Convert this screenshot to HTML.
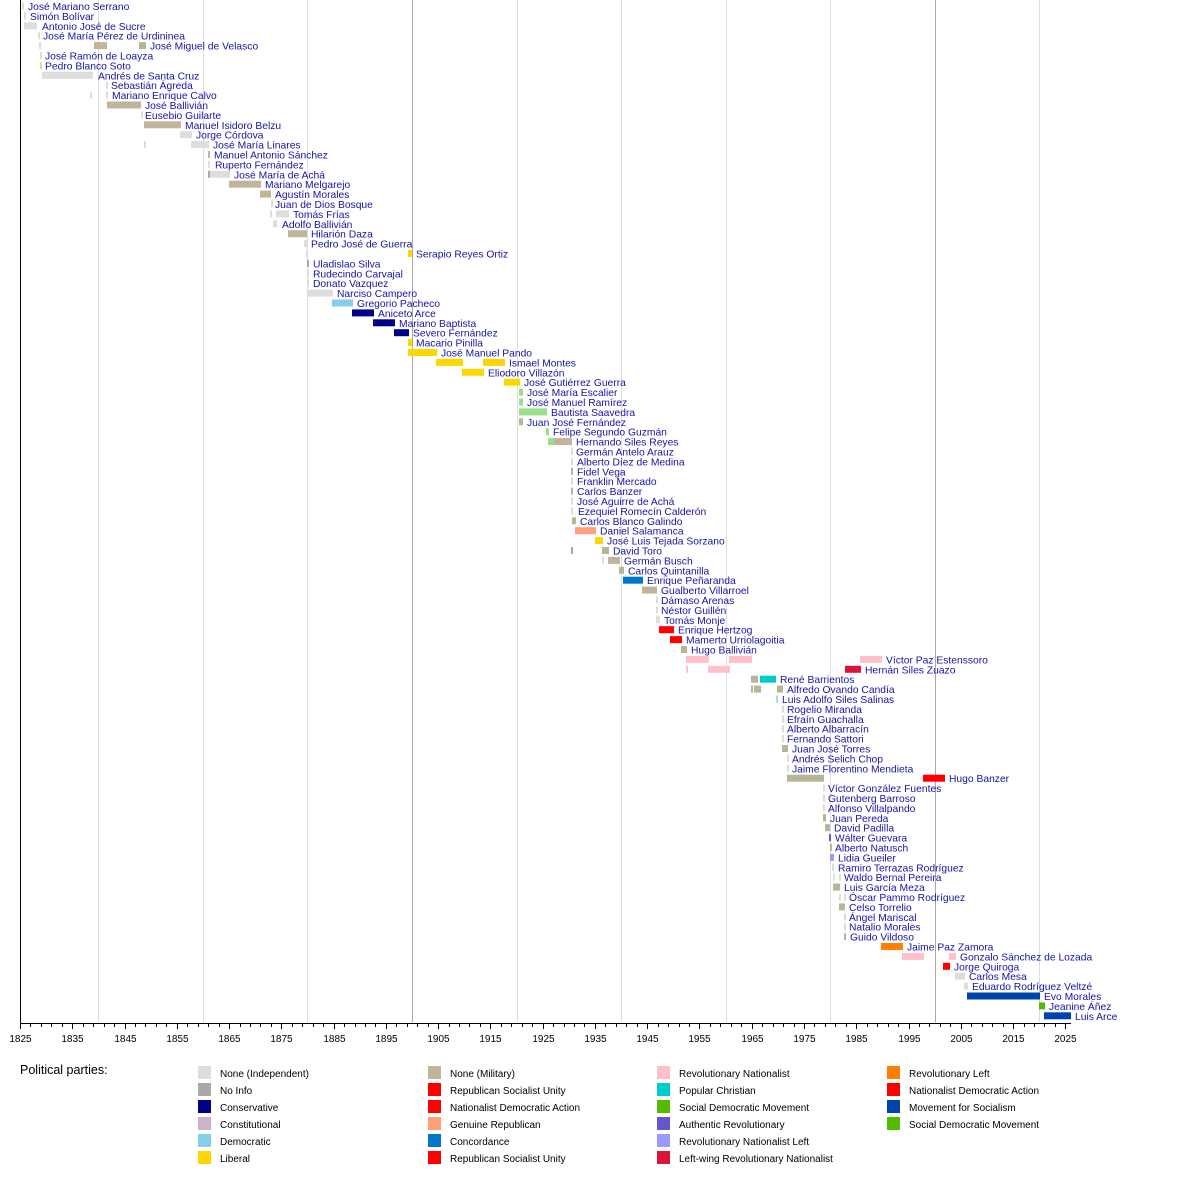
<!DOCTYPE html>
<html><head><meta charset="utf-8">
<style>
body{margin:0;background:#fff;width:1200px;height:1173px;overflow:hidden;}
svg text{font-family:"Liberation Sans",sans-serif;}
</style></head>
<body>
<svg id="s" width="1200" height="1173" xmlns="http://www.w3.org/2000/svg"></svg>
<script>
var G='#dddddd',N='#a9a9a9',C='#000088',D='#87ceeb',L='#ffd700',M='#c2b49a',R='#ff0000',GR='#ffa07a',CO='#0077cc',RN='#ffc0cb',PC='#00cccc',SD='#55bb00',AR='#6655cc',RL='#9999ff',LW='#dc143c',OR='#ff8000',MAS='#0044aa',LG='#98df8a',OL='#b8b496';
function t(x,c){return [x,x+2,c||G];}
var rows=[
["José Mariano Serrano",28,[t(22)]],
["Simón Bolívar",30,[t(24)]],
["Antonio José de Sucre",42,[[24,37,G]]],
["José María Pérez de Urdininea",43,[t(38)]],
["José Miguel de Velasco",150,[t(39),[94,107,M],[139,146,OL]]],
["José Ramón de Loayza",45,[t(40)]],
["Pedro Blanco Soto",45,[t(40,'#e8d890')]],
["Andrés de Santa Cruz",98,[[42,93,G]]],
["Sebastián Ágreda",111,[t(106)]],
["Mariano Enrique Calvo",112,[t(90),t(106)]],
["José Ballivián",145,[[107,141,M]]],
["Eusebio Guilarte",145,[t(141)]],
["Manuel Isidoro Belzu",185,[[144,181,M]]],
["Jorge Córdova",196,[[180,192,G]]],
["José María Linares",213,[t(144),[191,209,G]]],
["Manuel Antonio Sánchez",214,[t(208,M)]],
["Ruperto Fernández",215,[t(208)]],
["José María de Achá",234,[t(208,N),[210,230,G]]],
["Mariano Melgarejo",265,[[229,261,M]]],
["Agustín Morales",275,[[260,271,M]]],
["Juan de Dios Bosque",275,[t(271)]],
["Tomás Frías",293,[t(270),[276,289,G]]],
["Adolfo Ballivián",282,[[273,277,G]]],
["Hilarión Daza",311,[[288,307,M]]],
["Pedro José de Guerra",311,[[304,307,G]]],
["Serapio Reyes Ortiz",416,[t(306),[408,412,L]]],
["Uladislao Silva",313,[t(307,N)]],
["Rudecindo Carvajal",313,[t(307)]],
["Donato Vazquez",313,[t(307)]],
["Narciso Campero",337,[[307,333,G]]],
["Gregorio Pacheco",357,[[332,353,D]]],
["Aniceto Arce",378,[[352,374,C]]],
["Mariano Baptista",399,[[373,395,C]]],
["Severo Fernández",413,[[394,409,C]]],
["Macario Pinilla",416,[[408,412,L]]],
["José Manuel Pando",441,[[408,437,L]]],
["Ismael Montes",509,[[436,463,L],[483,505,L]]],
["Eliodoro Villazón",488,[[462,484,L]]],
["José Gutiérrez Guerra",524,[[504,520,L]]],
["José María Escalier",527,[[519,523,LG]]],
["José Manuel Ramírez",527,[[519,523,LG]]],
["Bautista Saavedra",551,[[519,547,LG]]],
["Juan José Fernández",527,[[519,523,OL]]],
["Felipe Segundo Guzmán",553,[[546,549,LG]]],
["Hernando Siles Reyes",576,[[548,554,LG],[554,572,M]]],
["Germán Antelo Arauz",576,[t(571)]],
["Alberto Díez de Medina",577,[t(571)]],
["Fidel Vega",577,[t(571,OL)]],
["Franklin Mercado",577,[t(571)]],
["Carlos Banzer",577,[t(571,OL)]],
["José Aguirre de Achá",577,[t(571)]],
["Ezequiel Romecín Calderón",578,[t(571)]],
["Carlos Blanco Galindo",580,[[572,576,OL]]],
["Daniel Salamanca",600,[[575,596,GR]]],
["José Luis Tejada Sorzano",607,[[595,603,L]]],
["David Toro",613,[t(571,N),[602,609,OL]]],
["Germán Busch",624,[t(602),[608,620,M]]],
["Carlos Quintanilla",628,[[619,624,OL]]],
["Enrique Peñaranda",647,[[623,643,CO]]],
["Gualberto Villarroel",661,[[642,657,M]]],
["Dámaso Arenas",661,[t(656)]],
["Néstor Guillén",661,[t(656)]],
["Tomás Monje",664,[[656,660,G]]],
["Enrique Hertzog",678,[[659,674,R]]],
["Mamerto Urriolagoitia",686,[[670,682,R]]],
["Hugo Ballivián",691,[[681,687,OL]]],
["Víctor Paz Estenssoro",886,[[686,709,RN],[729,752,RN],[860,882,RN]]],
["Hernán Siles Zuazo",865,[t(686,RN),[708,730,RN],[845,861,LW]]],
["René Barrientos",780,[[751,758,OL],[760,776,PC]]],
["Alfredo Ovando Candía",787,[t(751,OL),[754,761,OL],[777,783,OL]]],
["Luis Adolfo Siles Salinas",782,[[776,778,'#a0e0e0']]],
["Rogelio Miranda",787,[t(782)]],
["Efraín Guachalla",787,[t(782)]],
["Alberto Albarracín",787,[t(782)]],
["Fernando Sattori",787,[t(782)]],
["Juan José Torres",792,[[782,788,OL]]],
["Andrés Selich Chop",792,[t(787)]],
["Jaime Florentino Mendieta",792,[t(787)]],
["Hugo Banzer",949,[[787,824,OL],[923,945,R]]],
["Víctor González Fuentes",828,[t(823)]],
["Gutenberg Barroso",828,[t(823)]],
["Alfonso Villalpando",828,[t(823)]],
["Juan Pereda",830,[[823,826,OL]]],
["David Padilla",834,[[825,830,OL]]],
["Wálter Guevara",835,[[829,831,AR]]],
["Alberto Natusch",835,[t(830,OL)]],
["Lidia Gueiler",838,[[830,834,RL]]],
["Ramiro Terrazas Rodríguez",838,[t(832)]],
["Waldo Bernal Pereira",844,[t(833),t(839)]],
["Luis García Meza",844,[[833,840,OL]]],
["Óscar Pammo Rodríguez",849,[t(839),t(844)]],
["Celso Torrelio",849,[[839,845,OL]]],
["Ángel Mariscal",849,[t(844)]],
["Natalio Morales",849,[t(844)]],
["Guido Vildoso",850,[t(844,OL)]],
["Jaime Paz Zamora",907,[[881,903,OR]]],
["Gonzalo Sánchez de Lozada",960,[[902,924,RN],[949,956,RN]]],
["Jorge Quiroga",954,[[943,950,R]]],
["Carlos Mesa",969,[[955,965,G]]],
["Eduardo Rodríguez Veltzé",972,[[964,968,G]]],
["Evo Morales",1044,[[967,1040,MAS]]],
["Jeanine Áñez",1049,[[1039,1045,SD]]],
["Luis Arce",1075,[[1044,1071,MAS]]]
];
var h='';
function X(y){return 20+(y-1825)*5.2267;}
[1840,1860,1880,1920,1940,1960,1980,2020].forEach(function(y){var x=Math.round(X(y))+.5;h+='<line x1="'+x+'" y1="0" x2="'+x+'" y2="1022" stroke="#dcdcdc"/>';});
[1900,2000].forEach(function(y){var x=Math.round(X(y))+.5;h+='<line x1="'+x+'" y1="0" x2="'+x+'" y2="1022" stroke="#a8a8a8"/>';});
rows.forEach(function(r,i){var c=6+i*9.9;
 r[2].forEach(function(b){h+='<rect x="'+b[0]+'" y="'+(c-3.5)+'" width="'+(b[1]-b[0])+'" height="7" fill="'+b[2]+'"/>';});
 h+='<text x="'+r[1]+'" y="'+(c+4)+'" font-size="10.3" fill="#1414a8">'+r[0]+'</text>';
});
h+='<line x1="20.5" y1="0" x2="20.5" y2="1023" stroke="#000"/>';
h+='<line x1="20" y1="1023.5" x2="1071" y2="1023.5" stroke="#000"/>';
for(var y=1825;y<=2025;y+=2){var x=Math.round(X(y))+.5;h+='<line x1="'+x+'" y1="1023" x2="'+x+'" y2="1027" stroke="#000"/>';}
for(var y=1825;y<=2025;y+=10){var x=Math.round(X(y))+.5;h+='<line x1="'+x+'" y1="1023" x2="'+x+'" y2="1029" stroke="#000"/><text x="'+x+'" y="1042" font-size="10" text-anchor="middle" fill="#000">'+y+'</text>';}
h+='<text x="20" y="1074" font-size="12.5" fill="#000">Political parties:</text>';
var leg=[
[["None (Independent)",G],["No Info",N],["Conservative",C],["Constitutional",'#ccb3cc'],["Democratic",D],["Liberal",L]],
[["None (Military)",M],["Republican Socialist Unity",R],["Nationalist Democratic Action",R],["Genuine Republican",GR],["Concordance",CO],["Republican Socialist Unity",R]],
[["Revolutionary Nationalist",RN],["Popular Christian",PC],["Social Democratic Movement",SD],["Authentic Revolutionary",AR],["Revolutionary Nationalist Left",RL],["Left-wing Revolutionary Nationalist",LW]],
[["Revolutionary Left",OR],["Nationalist Democratic Action",R],["Movement for Socialism",MAS],["Social Democratic Movement",SD]]];
var cx=[198,428,657,887];
leg.forEach(function(col,j){col.forEach(function(e,k){var y=1066+k*17;
 h+='<rect x="'+cx[j]+'" y="'+y+'" width="13" height="13" fill="'+e[1]+'"/>';
 h+='<text x="'+(cx[j]+22)+'" y="'+(y+11)+'" font-size="10" fill="#000">'+e[0]+'</text>';});});
document.getElementById('s').innerHTML=h;
</script>
</body></html>
